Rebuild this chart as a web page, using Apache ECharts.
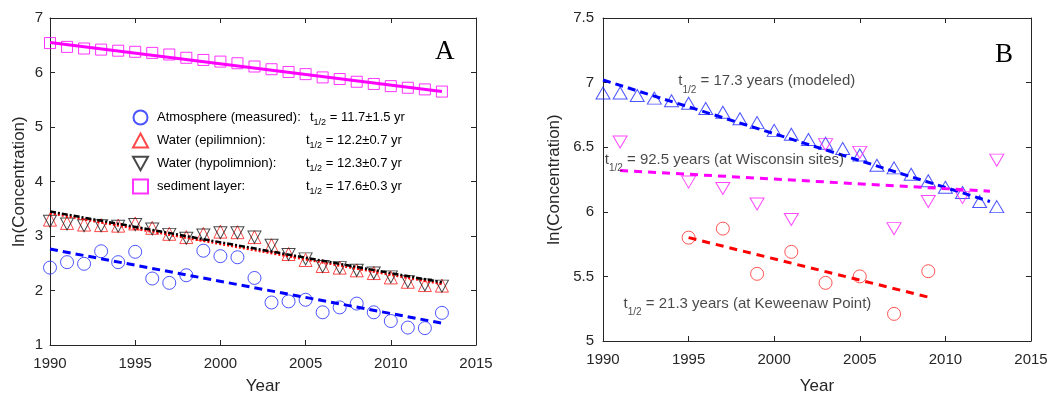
<!DOCTYPE html>
<html><head><meta charset="utf-8">
<script src="https://cdn.jsdelivr.net/npm/echarts@6/dist/echarts.min.js"></script>
<style>html,body{margin:0;padding:0;background:#fff}#c{width:1052px;height:400px}</style>
</head><body><div id="c"></div>
<script>
// ---------- Panel A data ----------
const yearsA = [1990,1991,1992,1993,1994,1995,1996,1997,1998,1999,2000,2001,2002,2003,2004,2005,2006,2007,2008,2009,2010,2011,2012,2013];
const atmosphere = [2.42,2.52,2.49,2.72,2.52,2.71,2.22,2.14,2.28,2.73,2.63,2.61,2.23,1.78,1.80,1.83,1.60,1.69,1.76,1.60,1.44,1.32,1.31,1.59];
const epilimnion = [3.30,3.24,3.21,3.20,3.19,3.23,3.15,3.04,2.98,3.04,3.08,3.07,2.98,2.83,2.67,2.56,2.45,2.42,2.37,2.32,2.24,2.16,2.10,2.09];
const hypolimnion = [3.27,3.22,3.19,3.19,3.18,3.21,3.13,3.03,2.96,3.02,3.06,3.06,2.98,2.83,2.66,2.58,2.44,2.42,2.37,2.32,2.25,2.16,2.10,2.08];
const sediment = [6.54,6.47,6.44,6.42,6.40,6.38,6.36,6.33,6.27,6.23,6.20,6.17,6.11,6.06,6.01,5.97,5.91,5.88,5.83,5.79,5.75,5.72,5.69,5.65];
const fitAtmosphere = [[1990,2.76],[2013,1.40]];
const fitEpilimnion = [[1990,3.42],[2013,2.12]];
const fitHypolimnion = [[1990,3.45],[2013,2.15]];
const fitSediment = [[1990,6.55],[2013,5.65]];
const legendNames = ['Atmosphere (measured):','Water (epilimnion):','Water (hypolimnion):','sediment layer:'];
const legendHalfLives = ['11.7\u00b11.5','12.2\u00b10.7','12.3\u00b10.7','17.6\u00b10.3'];

// ---------- Panel B data ----------
const yearsModeled = [1990,1991,1992,1993,1994,1995,1996,1997,1998,1999,2000,2001,2002,2003,2004,2005,2006,2007,2008,2009,2010,2011,2012,2013];
const modeled = [6.92,6.92,6.90,6.88,6.86,6.84,6.80,6.77,6.72,6.69,6.63,6.60,6.56,6.53,6.49,6.44,6.36,6.34,6.29,6.24,6.19,6.15,6.08,6.04];
const yearsWisconsin = [1991,1995,1997,1999,2001,2003,2005,2007,2009,2011,2013];
const wisconsin = [6.54,6.23,6.18,6.06,5.94,6.52,6.46,5.87,6.08,6.11,6.40];
const yearsKeweenaw = [1995,1997,1999,2001,2003,2005,2007,2009];
const keweenaw = [5.80,5.87,5.52,5.69,5.45,5.50,5.21,5.54];
const fitModeled = [[1990,7.02],[2012.6,6.08]];
const fitWisconsin = [[1991,6.32],[2012.6,6.16]];
const fitKeweenaw = [[1995,5.80],[2009,5.34]];
const annX = [1994.4, 1990.1, 1991.2];
const annY = [7.01, 6.40, 5.29];
const annText = [' = 17.3 years (modeled)', ' = 92.5 years (at Wisconsin sites)', ' = 21.3 years (at Keweenaw Point)'];

const FONT = "'Liberation Sans', Arial, Helvetica, sans-serif";
const AX = '#262626';
const downTri = 'path://M0,0L20,0L10,18Z';

function pairs(xs, ys){ return xs.map((x,i)=>[x, ys[i]]); }

function axisPair(grid, isX, opts){
  const common = {
    type:'value', gridIndex:grid, splitLine:{show:false},
    axisLine:{show:true, onZero:false, lineStyle:{color:AX, width:1}},
    axisTick:{show:true, inside:true, length:5, lineStyle:{color:AX, width:1}}
  };
  const main = Object.assign({}, common, opts, {
    axisLabel:{fontSize:15, color:AX, fontFamily:FONT, margin:opts.labelMargin, formatter:function(v){return String(v);}},
    nameLocation:'middle', nameGap:opts.nameGap,
    nameTextStyle:{fontSize:17, color:AX, fontFamily:FONT}
  });
  delete main.labelMargin;
  const other = Object.assign({}, common, {min:opts.min, max:opts.max, interval:opts.interval,
    position: isX ? 'top' : 'right', axisLabel:{show:false}});
  return [main, other];
}

const xAxes = [
  ...axisPair(0, true, {min:1990,max:2015,interval:5,name:'Year',nameGap:33,labelMargin:11,position:'bottom'}),
  ...axisPair(1, true, {min:1990,max:2015,interval:5,name:'Year',nameGap:37,labelMargin:11,position:'bottom'})
];
const yAxes = [
  ...axisPair(0, false, {min:1,max:7,interval:1,name:'ln(Concentration)',nameGap:22,labelMargin:7,position:'left'}),
  ...axisPair(1, false, {min:5,max:7.5,interval:0.5,name:'ln(Concentration)',nameGap:40,labelMargin:9,position:'left'})
];

function scatterA(name, data, symbol, color, size){
  return {
    name, type:'scatter', xAxisIndex:0, yAxisIndex:0, data, symbol, symbolSize:size,
    itemStyle:{color:'rgba(0,0,0,0)', borderColor:color, borderWidth:1}, z:2
  };
}
function lineS(data, color, type, width, xi, yi){
  return {type:'line', xAxisIndex:xi, yAxisIndex:yi, data, showSymbol:false, symbol:'none',
    lineStyle:{color, type, width}, z:3, silent:true};
}

const rich = {
  sp:{width:4},
  n1:{width:153, fontSize:13, color:'#000', fontFamily:FONT},
  n:{width:149, fontSize:13, color:'#000', fontFamily:FONT},
  t:{fontSize:13, color:'#000', fontFamily:FONT},
  s:{fontSize:9, color:'#000', fontFamily:FONT, lineHeight:9, padding:[10,0,0,0]}
};

const annRich = {
  t:{fontSize:15, color:'#1a1a1a', fontFamily:FONT},
  s:{fontSize:10, color:'#1a1a1a', fontFamily:FONT, lineHeight:10, padding:[17,0,0,0]}
};

const option = {
  animation:false,
  backgroundColor:'#fff',
  grid:[
    {left:50, top:18, width:426, height:330},
    {left:603, top:18, width:428, height:325}
  ],
  title:[
    {text:'A', left:430, top:33, textStyle:{fontFamily:"'Liberation Serif', 'Times New Roman', serif", fontSize:27, fontWeight:'normal', color:'#000'}},
    {text:'B', left:990, top:36, textStyle:{fontFamily:"'Liberation Serif', 'Times New Roman', serif", fontSize:27, fontWeight:'normal', color:'#000'}}
  ],
  legend:{
    left:127, top:103, orient:'vertical', itemWidth:15, itemHeight:14, itemGap:4,
    data:legendNames, selectedMode:false,
    formatter:function(name){
      const i = legendNames.indexOf(name);
      return '{sp|}{' + (i===0?'n1':'n') + '|' + name + '}{t|t}{s|1/2}{t| = ' + legendHalfLives[i] + ' yr}';
    },
    textStyle:{rich:rich, padding:0}
  },
  xAxis:xAxes,
  yAxis:yAxes,
  series:[
    scatterA(legendNames[0], pairs(yearsA, atmosphere), 'circle', '#1f2bff', 13),
    scatterA(legendNames[1], pairs(yearsA, epilimnion), 'triangle', '#ff1a1a', [13,13]),
    scatterA(legendNames[2], pairs(yearsA, hypolimnion), downTri, '#1a1a1a', [13,12]),
    scatterA(legendNames[3], pairs(yearsA, sediment), 'rect', '#ff00ff', 11),
    lineS(fitSediment, '#ff00ff', 'solid', 3, 0, 0),
    lineS(fitAtmosphere, '#0000ff', [8,5], 3, 0, 0),
    lineS(fitEpilimnion, '#ff0000', [2,2], 2.5, 0, 0),
    lineS(fitHypolimnion, '#000000', [6,2,2,2], 2.5, 0, 0),
    // Panel B
    {type:'scatter', xAxisIndex:2, yAxisIndex:2, data:pairs(yearsModeled, modeled), symbol:'triangle', symbolSize:[14,12],
      itemStyle:{color:'rgba(0,0,0,0)', borderColor:'#1f2bff', borderWidth:1}, z:2},
    {type:'scatter', xAxisIndex:2, yAxisIndex:2, data:pairs(yearsWisconsin, wisconsin), symbol:downTri, symbolSize:[14,12],
      itemStyle:{color:'rgba(0,0,0,0)', borderColor:'#ff1aff', borderWidth:1}, z:2},
    {type:'scatter', xAxisIndex:2, yAxisIndex:2, data:pairs(yearsKeweenaw, keweenaw), symbol:'circle', symbolSize:13,
      itemStyle:{color:'rgba(0,0,0,0)', borderColor:'#ff2a2a', borderWidth:1}, z:2},
    lineS(fitModeled, '#0000ff', [8,5], 3, 2, 2),
    lineS(fitWisconsin, '#ff00ff', [8,6], 3, 2, 2),
    lineS(fitKeweenaw, '#ff0000', [8,6], 3, 2, 2),
    {type:'scatter', xAxisIndex:2, yAxisIndex:2, symbolSize:0, silent:true, z:5,
      data: annX.map((x,i)=>({value:[x, annY[i]], label:{formatter:'{t|t}{s|1/2}{t|' + annText[i] + '}'}})),
      label:{show:true, position:'right', distance:0, rich:annRich}
    }
  ]
};

const chart = echarts.init(document.getElementById('c'), null, {renderer:'canvas'});
chart.setOption(option);
</script>
</body></html>
